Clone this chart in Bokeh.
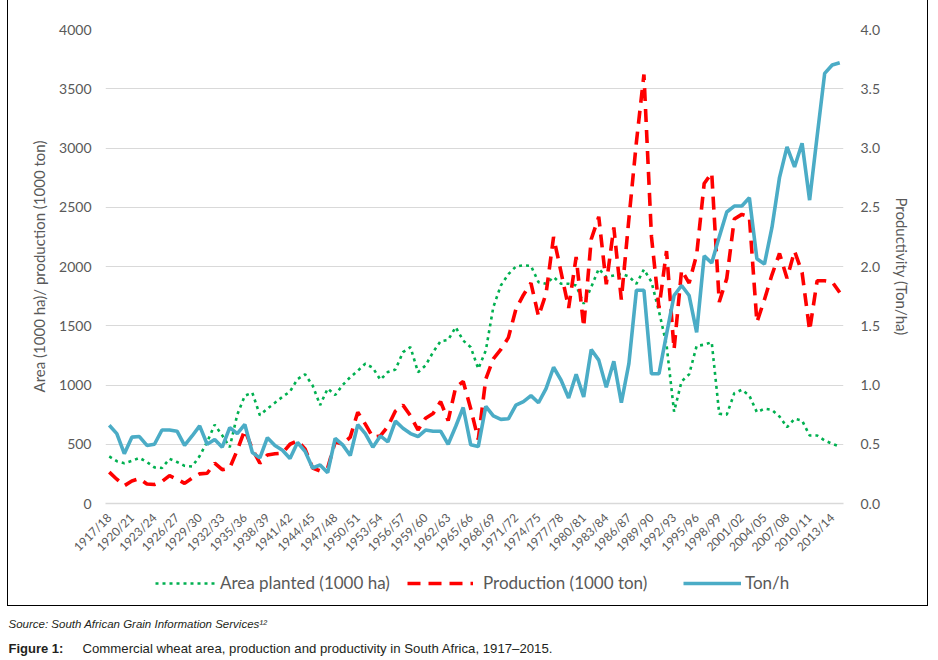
import math
from bokeh.plotting import figure
from bokeh.layouts import column
from bokeh.models import (Range1d, LinearAxis, FixedTicker, PrintfTickFormatter,
                          Legend, LegendItem, Label)
from bokeh.embed import file_html
from bokeh.resources import INLINE

# ---------------- data ----------------
start_years = list(range(1917, 2015))
seasons = [f"{y}/{(y + 1) % 100:02d}" for y in start_years]

area_planted = [397, 357, 340, 360, 385, 350, 305, 300, 377, 350,
                318, 312, 400, 520, 665, 575, 475, 750, 910, 935,
                745, 800, 850, 900, 945, 1050, 1090, 996, 830, 970,
                915, 1000, 1066, 1120, 1180, 1145, 1044, 1110, 1130, 1277,
                1319, 1108, 1165, 1277, 1370, 1380, 1488, 1375, 1319, 1137,
                1291, 1657, 1840, 1935, 2000, 2010, 2005, 1868, 1854, 1910,
                1854, 1854, 1840, 1685, 1826, 1980, 1910, 1924, 1938, 1916,
                1854, 1975, 1870, 1620, 1340, 775, 1030, 1090, 1330, 1340,
                1361, 757, 750, 930, 960, 910, 770, 800, 790, 734,
                644, 715, 700, 574, 574, 532, 504, 480]

production = [265, 205, 150, 190, 210, 165, 160, 185, 235, 205,
              170, 215, 250, 255, 340, 285, 300, 450, 620, 460,
              340, 410, 420, 425, 500, 530, 460, 300, 275, 300,
              520, 500, 560, 770, 670, 560, 570, 650, 780, 830,
              740, 620, 720, 760, 860, 700, 980, 1030, 800, 540,
              1050, 1220, 1300, 1400, 1640, 1760, 1860, 1580, 1770, 2250,
              1950, 1650, 2080, 1490, 2230, 2420, 1850, 2330, 1720, 2400,
              3050, 3620, 2250, 1650, 2130, 1300, 1970, 1860, 2100, 2700,
              2790, 1700, 1900, 2400, 2440, 2420, 1530, 1720, 1930, 2110,
              1900, 2130, 1950, 1460, 1880, 1880, 1870, 1780]

ton_per_ha = [0.66, 0.59, 0.42, 0.56, 0.565, 0.49, 0.50, 0.62, 0.62, 0.61,
              0.49, 0.57, 0.655, 0.50, 0.54, 0.475, 0.64, 0.59, 0.667, 0.43,
              0.385, 0.555, 0.49, 0.45, 0.38, 0.515, 0.44, 0.30, 0.325, 0.26,
              0.55, 0.495, 0.405, 0.665, 0.59, 0.475, 0.57, 0.52, 0.695, 0.635,
              0.59, 0.565, 0.62, 0.61, 0.61, 0.50, 0.65, 0.81, 0.495, 0.48,
              0.82, 0.74, 0.71, 0.715, 0.83, 0.86, 0.91, 0.85, 0.97, 1.15,
              1.04, 0.89, 1.09, 0.90, 1.30, 1.21, 0.98, 1.20, 0.85, 1.18,
              1.80, 1.80, 1.095, 1.095, 1.43, 1.755, 1.84, 1.755, 1.445, 2.09,
              2.03, 2.25, 2.46, 2.51, 2.51, 2.58, 2.065, 2.02, 2.33, 2.75,
              3.01, 2.84, 3.04, 2.56, 3.10, 3.63, 3.70, 3.72]

left_ticks = [0, 500, 1000, 1500, 2000, 2500, 3000, 3500, 4000]
right_ticks = [0.0, 0.5, 1.0, 1.5, 2.0, 2.5, 3.0, 3.5, 4.0]

legend_labels = ["Area planted (1000 ha)", "Production (1000 ton)", "Ton/h"]
left_title = "Area (1000 ha)/ production (1000 ton)"
right_title = "Productivity (Ton/ha)"
source_text = "Source: South African Grain Information Services\u00b9\u00b2"
fig_label = "Figure 1:"
fig_caption = "Commercial wheat area, production and productivity in South Africa, 1917\u20132015."

# ---------------- styling ----------------
FONT = "Lato"
CAP_FONT = "Liberation Sans Narrow, Liberation Sans, sans-serif"
GRAY = "#595959"
GREEN = "#00B050"
RED = "#FF0000"
BLUE = "#4BACC6"

STYLE_AREA = dict(line_color=GREEN, line_width=2.6, line_dash="3 4")
STYLE_PROD = dict(line_color=RED, line_width=3.6, line_dash="13 8")
STYLE_TON = dict(line_color=BLUE, line_width=3.6)

idx = list(range(len(seasons)))

# ---------------- main chart ----------------
p = figure(width=919, height=563, output_backend="svg", toolbar_location=None,
           x_range=Range1d(-0.5, len(seasons) - 0.5), y_range=Range1d(0, 4000),
           min_border_left=97, min_border_right=84, min_border_top=29,
           min_border_bottom=60)
p.extra_y_ranges = {"ton": Range1d(0, 4)}
p.outline_line_color = None
p.background_fill_color = "white"
p.border_fill_color = "white"

p.xgrid.visible = False
p.ygrid.ticker = FixedTicker(ticks=left_ticks)
p.ygrid.grid_line_color = "#d9d9d9"
p.ygrid.grid_line_width = 1

xa = p.xaxis[0]
xa.ticker = FixedTicker(ticks=list(range(0, len(seasons), 3)))
xa.major_label_overrides = {i: seasons[i] for i in range(len(seasons))}
xa.major_label_orientation = math.pi / 4
xa.major_tick_in = 0
xa.major_tick_out = 0
xa.minor_tick_in = 0
xa.minor_tick_out = 0
xa.axis_line_color = "#d9d9d9"
xa.axis_line_width = 1.5
xa.major_label_standoff = 12
xa.major_label_text_font = FONT
xa.major_label_text_font_size = "12px"
xa.major_label_text_color = GRAY

ya = p.yaxis[0]
ya.ticker = FixedTicker(ticks=left_ticks)
ya.axis_line_color = None
ya.major_tick_in = 0
ya.major_tick_out = 0
ya.minor_tick_in = 0
ya.minor_tick_out = 0
ya.major_label_standoff = 14
ya.major_label_text_font = FONT
ya.major_label_text_font_size = "14px"
ya.major_label_text_color = GRAY
ya.axis_label = left_title
ya.axis_label_standoff = 8
ya.axis_label_text_font = FONT
ya.axis_label_text_font_style = "normal"
ya.axis_label_text_font_size = "15px"
ya.axis_label_text_color = GRAY

ra = LinearAxis(y_range_name="ton", ticker=FixedTicker(ticks=right_ticks),
                formatter=PrintfTickFormatter(format="%.1f"))
ra.axis_line_color = None
ra.major_tick_in = 0
ra.major_tick_out = 0
ra.minor_tick_in = 0
ra.minor_tick_out = 0
ra.major_label_standoff = 17
ra.major_label_text_font = FONT
ra.major_label_text_font_size = "14px"
ra.major_label_text_color = GRAY
ra.axis_label = right_title
ra.axis_label_standoff = 10
ra.axis_label_text_font = FONT
ra.axis_label_text_font_style = "normal"
ra.axis_label_text_font_size = "15px"
ra.axis_label_text_color = GRAY
p.add_layout(ra, "right")

p.line(idx, area_planted, **STYLE_AREA)
p.line(idx, production, **STYLE_PROD)
p.line(idx, ton_per_ha, y_range_name="ton", **STYLE_TON)

# ---------------- legend strip (inside the border) ----------------
# Its frame is aligned with the chart frame by the column layout; the series
# are drawn again here only so that the legend has glyphs; the y range is set
# far away so that none of them is visible in this strip.
lf = figure(width=919, height=42, output_backend="svg", toolbar_location=None,
            x_range=Range1d(-0.5, len(seasons) - 0.5), y_range=Range1d(-20000, -10000),
            x_axis_location=None, y_axis_location=None,
            min_border=0, min_border_left=0, min_border_right=0,
            min_border_top=0, min_border_bottom=0)
lf.grid.visible = False
lf.outline_line_color = None
lf.border_fill_color = "white"
lf.background_fill_color = "white"
la = lf.line(idx, area_planted, **STYLE_AREA)
lp = lf.line(idx, production, **STYLE_PROD)
lt = lf.line(idx, ton_per_ha, **STYLE_TON)
for r, lab, vx, gw, so in [(la, legend_labels[0], 50, 60, 5),
                           (lp, legend_labels[1], 302, 66, 10),
                           (lt, legend_labels[2], 578, 58, 4)]:
    lg = Legend(items=[LegendItem(label=lab, renderers=[r])], location=(vx, 12),
                orientation="horizontal", glyph_width=gw, glyph_height=20,
                label_height=20, label_standoff=so, padding=0, margin=0,
                border_line_color=None, background_fill_alpha=0,
                label_text_font=FONT, label_text_font_size="17px",
                label_text_color=GRAY, label_text_baseline="middle")
    lf.add_layout(lg, "center")

boxed = column(p, lf, margin=(0, 0, 0, 7),
               styles={"border-left": "1px solid #000", "border-right": "1px solid #000",
                       "border-bottom": "1px solid #000"})

# ---------------- caption strip ----------------
cf = figure(width=938, height=52, output_backend="svg", toolbar_location=None,
            x_range=Range1d(0, 1), y_range=Range1d(0, 1),
            x_axis_location=None, y_axis_location=None,
            min_border=0, min_border_left=0, min_border_right=0,
            min_border_top=0, min_border_bottom=0)
cf.grid.visible = False
cf.outline_line_color = None
cf.border_fill_color = "white"
cf.add_layout(Label(x=8, y=35, x_units="screen", y_units="screen",
                    text=source_text, text_font=CAP_FONT, text_font_style="italic",
                    text_font_size="11.5px", text_color="#231f20", text_baseline="middle"))
cf.add_layout(Label(x=8, y=10, x_units="screen", y_units="screen",
                    text=fig_label, text_font=CAP_FONT, text_font_style="bold",
                    text_font_size="13px", text_color="#231f20", text_baseline="middle"))
cf.add_layout(Label(x=82, y=10, x_units="screen", y_units="screen",
                    text=fig_caption, text_font=CAP_FONT,
                    text_font_size="13.2px", text_color="#231f20", text_baseline="middle"))

layout = column(boxed, cf)
open("out.html", "w").write(file_html(layout, INLINE))
